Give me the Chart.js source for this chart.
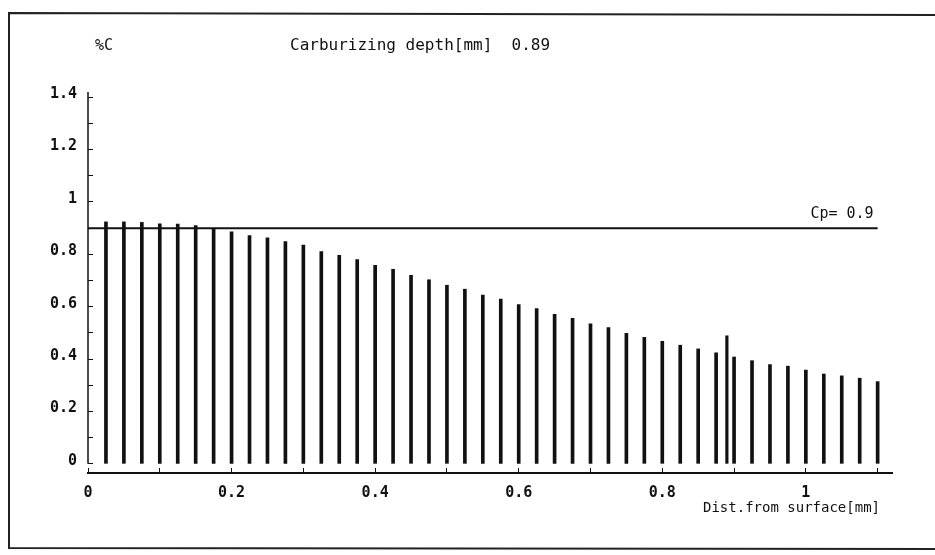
<!DOCTYPE html>
<html>
<head>
<meta charset="utf-8">
<script src="https://cdn.jsdelivr.net/npm/chart.js@4/dist/chart.umd.min.js"></script>
<style>
  html, body { margin: 0; padding: 0; background: #fff; }
  #wrap { width: 935px; height: 555px; }
</style>
</head>
<body>
<div id="wrap"><canvas id="carbChart" width="935" height="555"></canvas></div>
<script>
// distance from surface [mm]
const distances = [0.025, 0.05, 0.075, 0.1, 0.125, 0.15, 0.175, 0.2, 0.225, 0.25, 0.275,
  0.3, 0.325, 0.35, 0.375, 0.4, 0.425, 0.45, 0.475, 0.5, 0.525, 0.55,
  0.575, 0.6, 0.625, 0.65, 0.675, 0.7, 0.725, 0.75, 0.775, 0.8, 0.825,
  0.85, 0.875, 0.9, 0.925, 0.95, 0.975, 1.0, 1.025, 1.05, 1.075, 1.1];
// carbon content %C
const carbon = [0.924, 0.924, 0.922, 0.917, 0.916, 0.910, 0.897, 0.886, 0.872, 0.863, 0.849,
  0.835, 0.811, 0.796, 0.780, 0.758, 0.743, 0.720, 0.703, 0.682, 0.667, 0.644,
  0.629, 0.608, 0.593, 0.571, 0.556, 0.535, 0.520, 0.498, 0.483, 0.468, 0.453,
  0.439, 0.424, 0.408, 0.394, 0.379, 0.373, 0.358, 0.343, 0.336, 0.327, 0.314];
// carburizing depth marker
const depthX = [0.89];
const depthY = [0.489];
// Cp line
const cpValue = 0.9;
const cpRange = [0, 1.1];

const xTicks = [0, 0.1, 0.2, 0.3, 0.4, 0.5, 0.6, 0.7, 0.8, 0.9, 1.0, 1.1];
const xTickLabels = ['0', '', '0.2', '', '0.4', '', '0.6', '', '0.8', '', '1', ''];
const yTicks = [0, 0.1, 0.2, 0.3, 0.4, 0.5, 0.6, 0.7, 0.8, 0.9, 1.0, 1.1, 1.2, 1.3, 1.4];
const yTickLabels = ['0', '', '0.2', '', '0.4', '', '0.6', '', '0.8', '', '1', '', '1.2', '', '1.4'];

const MONO = "'DejaVu Sans Mono', 'Liberation Mono', monospace";

// page frame, y axis line and the free texts
const decorations = {
    id: 'decorations',
    beforeDraw(chart) {
        const ctx = chart.ctx;
        ctx.save();
        ctx.strokeStyle = '#222';
        ctx.lineWidth = 2;
        ctx.beginPath();
        ctx.moveTo(935, 15);
        ctx.lineTo(9, 13);
        ctx.lineTo(9, 548);
        ctx.lineTo(935, 549);
        ctx.stroke();
        ctx.restore();
    },
    afterDraw(chart) {
        const ctx = chart.ctx;
        const x = chart.scales.x, y = chart.scales.y;
        ctx.save();
        // y axis line (stops at 0, x axis sits a bit lower)
        ctx.strokeStyle = '#111';
        ctx.lineWidth = 1.5;
        ctx.beginPath();
        ctx.moveTo(x.getPixelForValue(0), y.getPixelForValue(0));
        ctx.lineTo(x.getPixelForValue(0), chart.chartArea.top);
        ctx.stroke();

        ctx.fillStyle = '#111';
        ctx.textBaseline = 'middle';
        ctx.font = '15px ' + MONO;
        ctx.textAlign = 'left';
        ctx.fillText('%C', 95, 46);
        ctx.font = '16px ' + MONO;
        ctx.fillText('Carburizing depth[mm]  0.89', 290, 46);

        ctx.textAlign = 'right';
        ctx.font = '15px ' + MONO;
        ctx.fillText('Cp= ' + cpValue, x.getPixelForValue(cpRange[1]) - 4, y.getPixelForValue(cpValue) - 14);
        ctx.font = '14px ' + MONO;
        ctx.fillText('Dist.from surface[mm]', 880, 508);
        ctx.restore();
    }
};

new Chart(document.getElementById('carbChart'), {
    type: 'bar',
    data: {
        datasets: [{
            label: '%C',
            data: distances.map((d, i) => ({ x: d, y: carbon[i] })),
            backgroundColor: '#111',
            barThickness: 3,
            grouped: false
        }, {
            label: 'depth',
            data: depthX.map((d, i) => ({ x: d, y: depthY[i] })),
            backgroundColor: '#111',
            barThickness: 2.5,
            grouped: false
        }, {
            type: 'line',
            label: 'Cp',
            data: cpRange.map(d => ({ x: d, y: cpValue })),
            borderColor: '#111',
            borderWidth: 2,
            pointRadius: 0
        }]
    },
    options: {
        responsive: false,
        animation: false,
        layout: {
            padding: { left: 0, top: 92, right: 43, bottom: 42 }
        },
        plugins: {
            legend: { display: false },
            tooltip: { enabled: false }
        },
        scales: {
            x: {
                type: 'linear',
                min: 0,
                max: 1.12,
                offset: false,
                afterFit: s => { s.height = 40; },
                afterBuildTicks: s => { s.ticks = xTicks.map(v => ({ value: v })); },
                grid: {
                    offset: false,
                    drawOnChartArea: false,
                    drawTicks: true,
                    tickLength: -5,
                    color: '#111',
                    lineWidth: 1
                },
                border: { display: true, color: '#111', width: 2 },
                ticks: {
                    padding: 16,
                    maxRotation: 0,
                    autoSkip: false,
                    color: '#111',
                    font: { family: MONO, size: 15, weight: 'bold' },
                    callback: (v, i) => xTickLabels[i]
                }
            },
            y: {
                min: -0.035,
                max: 1.42,
                afterFit: s => { s.width = 88; },
                afterBuildTicks: s => { s.ticks = yTicks.map(v => ({ value: v })); },
                grid: {
                    drawOnChartArea: false,
                    drawTicks: true,
                    tickLength: -5,
                    color: '#111',
                    lineWidth: 1
                },
                border: { display: false },
                ticks: {
                    padding: 16,
                    labelOffset: -3,
                    autoSkip: false,
                    color: '#111',
                    font: { family: MONO, size: 15, weight: 'bold' },
                    callback: (v, i) => yTickLabels[i]
                }
            }
        }
    },
    plugins: [decorations]
});
</script>
</body>
</html>
